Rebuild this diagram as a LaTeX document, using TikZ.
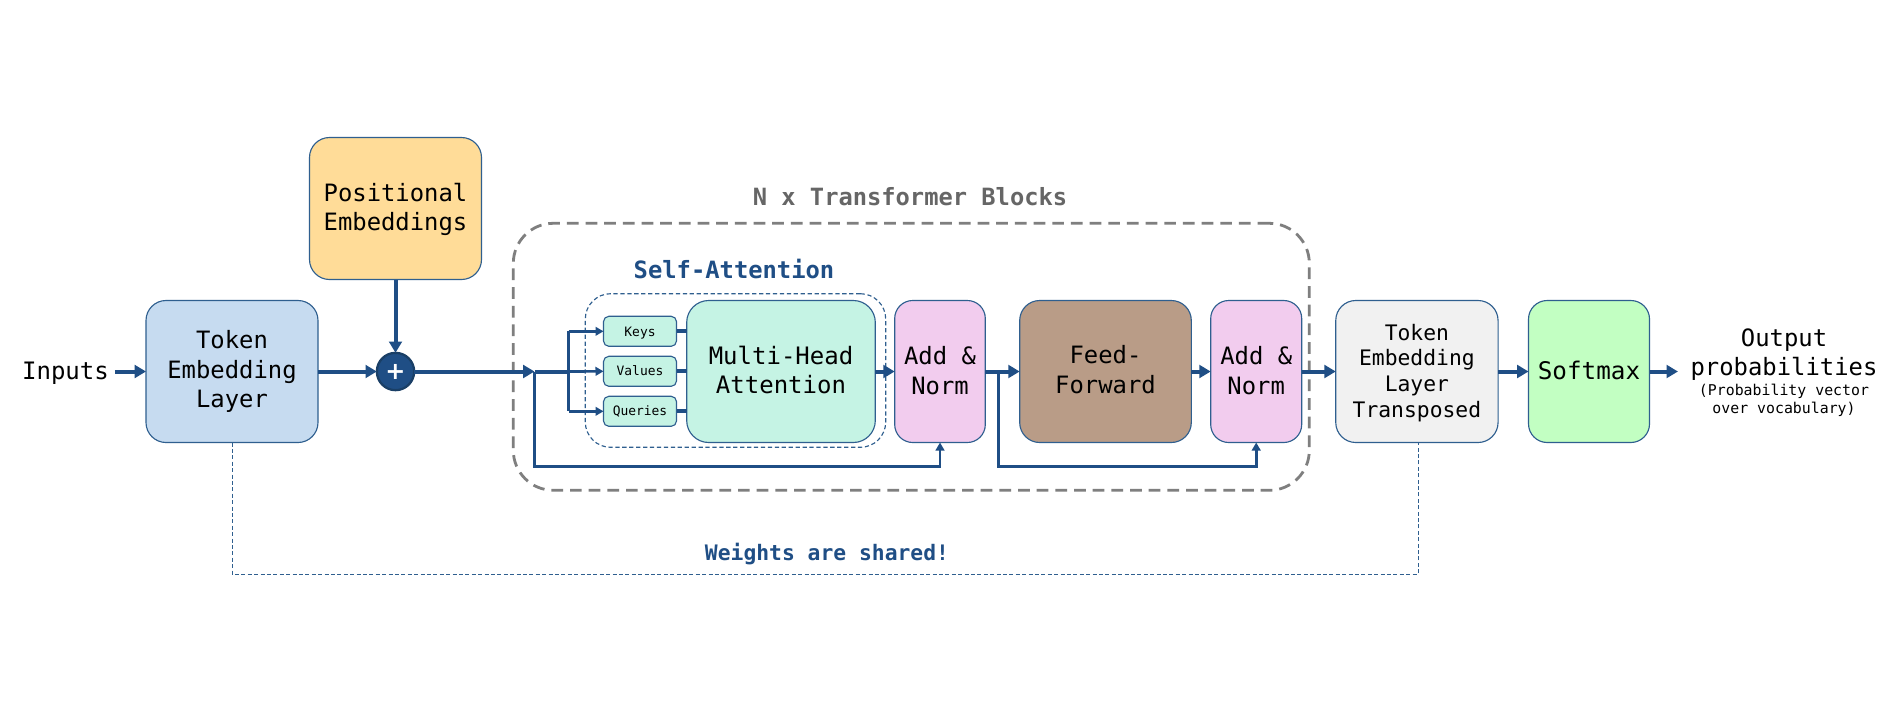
\documentclass[tikz,border=0pt]{standalone}
\usepackage{fontspec}
\setmainfont{DejaVu Sans Mono}
\newfontfamily\plusfont{DejaVu Sans Bold}
\usetikzlibrary{arrows.meta,calc}
\definecolor{lineblue}{HTML}{1F4E85}
\definecolor{edgeblue}{HTML}{2F5F8F}
\definecolor{circedge}{HTML}{1A3F66}
\definecolor{tokenfill}{HTML}{C6DBF0}
\definecolor{posfill}{HTML}{FFDC98}
\definecolor{mhfill}{HTML}{C5F3E4}
\definecolor{addfill}{HTML}{F2CCEE}
\definecolor{fffill}{HTML}{B99C87}
\definecolor{transfill}{HTML}{F1F1F1}
\definecolor{softfill}{HTML}{C2FFC2}
\definecolor{graylab}{HTML}{666666}
\definecolor{graydash}{HTML}{7F7F7F}
\newcommand{\dn}[1]{\rule[-#1pt]{0pt}{0pt}}
\newcommand{\up}[1]{\rule{0pt}{#1pt}}
\tikzset{
  sz/.style 2 args={minimum width=#1*0.75pt, minimum height=#2*0.75pt},
  block/.style={draw=edgeblue, line width=0.85pt, inner sep=0pt, outer sep=0pt, align=center, text=black,
    rounded corners=15pt, font=\fontsize{17.9}{22}\selectfont},
  small block/.style={block, rounded corners=4pt, font=\fontsize{9.7}{12}\selectfont},
  main/.style={draw=lineblue, line width=3pt, -{Triangle[length=8.5pt,width=9.5pt]}},
  plainline/.style={draw=lineblue, line width=3pt},
  thinarrow/.style={draw=lineblue, line width=2pt, -{Triangle[length=6pt,width=6.5pt]}},
  label/.style={inner sep=0pt, outer sep=0pt, align=center},
  shared/.style={draw=edgeblue, line width=0.75pt, dash pattern=on 3pt off 1.8pt}
}
\begin{document}
\begin{tikzpicture}[x=0.75pt,y=-0.75pt]
\path[use as bounding box,fill=white] (0,0) rectangle (1890,718);
% containers
\node[draw=graydash, line width=2.1pt, dash pattern=on 8.8pt off 5.2pt, rounded corners=30pt, sz={796}{267}, inner sep=0pt, outer sep=0pt] (blocks) at (911.3,356.8) {};
\node[draw=edgeblue, line width=0.85pt, dash pattern=on 3.2pt off 2pt, rounded corners=19pt, sz={300.4}{153.6}, inner sep=0pt, outer sep=0pt] (selfatt) at (735.5,370.5) {};
% boxes
\node[block, sz={172}{142}, fill=tokenfill] (token) at (232,371.5) {Token\\Embedding\\Layer};
\node[block, sz={172}{142}, fill=posfill] (pos) at (395.5,208.5) {\up{15}Positional\\Embeddings};
\node[draw=circedge, line width=1.7pt, fill=lineblue, circle, minimum size=28pt, inner sep=0pt, outer sep=0pt, text=white, font=\plusfont\fontsize{18}{18}\selectfont] (plus) at (395.5,371.5) {+};
\node[small block, sz={73}{30}, fill=mhfill] (keys) at (640,331.3) {\up{10}Keys};
\node[small block, sz={73}{30}, fill=mhfill] (values) at (640,371.3) {Values\dn{1.5}};
\node[small block, sz={73}{30}, fill=mhfill] (queries) at (640,411.3) {Queries};
\node[block, rounded corners=16.5pt, sz={188.6}{142}, fill=mhfill, font=\fontsize{18}{22}\selectfont] (mh) at (781,371.5) {Multi-Head\\Attention\dn{2.8}};
\node[block, rounded corners=13.5pt, sz={90.6}{142}, fill=addfill] (add1) at (940,371.5) {Add \&\\Norm\dn{1.5}};
\node[block, sz={171.6}{142}, fill=fffill] (ff) at (1105.5,371.5) {Feed-\\Forward\dn{3}};
\node[block, rounded corners=13.5pt, sz={91}{142}, fill=addfill] (add2) at (1256.2,371.5) {Add \&\\Norm\dn{1.5}};
\node[block, sz={162.3}{142}, fill=transfill, font=\fontsize{16}{19.3}\selectfont] (trans) at (1416.9,371.5) {\up{14}Token\\Embedding\\Layer\\Transposed};
\node[block, rounded corners=14pt, sz={121}{142}, fill=softfill, font=\fontsize{18.2}{22}\selectfont] (soft) at (1589,371.5) {Softmax\dn{1.5}};
% labels
\node[label, font=\fontsize{18}{22}\selectfont, inner xsep=4.5pt] (inputs) at (65.5,373.5) {Inputs};
\node[label, font=\fontsize{17.9}{22}\selectfont, inner xsep=9.5pt] (output) at (1784,354.7) {Output\\probabilities};
\node[label, font=\fontsize{11.15}{13.5}\selectfont] (outsub) at (1784,400.7) {(Probability vector\\over vocabulary)};
\node[label, text=graylab, font=\bfseries\fontsize{17.8}{22}\selectfont] (blockslab) at (910,197) {N x Transformer Blocks};
\node[label, text=lineblue, font=\bfseries\fontsize{17.85}{22}\selectfont] (salab) at (734,268.5) {Self-Attention};
\node[label, text=lineblue, font=\bfseries\fontsize{16}{20}\selectfont] (sharedlab) at (827,554) {Weights are shared!};
% free ends
\coordinate (j1) at (534.5,371.5);
\coordinate (j2) at (568.5,371.5);
\coordinate (j3) at (998.5,371.5);
\coordinate (by1) at (534.5,466.5);
\coordinate (by2) at (998.5,466.5);
\coordinate (sh) at (827,574);
% connectors
\draw[main] (inputs.east |- token.west) -- (token.west);
\draw[main] (token.east) -- (plus.west);
\draw[main] (pos.south) -- (plus.north);
\draw[main] (plus.east) -- (j1);
\draw[plainline] (j1) -- (j2);
\draw[plainline,line width=2pt] (j2 |- keys) -- (j2 |- queries);
\draw[thinarrow] (j2 |- keys) -- (keys.west);
\draw[thinarrow] (j2) -- (values.west);
\draw[thinarrow] (j2 |- queries) -- (queries.west);
\draw[plainline] (keys.east) -- (keys.east -| mh.west);
\draw[plainline] (values.east) -- (values.east -| mh.west);
\draw[plainline] (queries.east) -- (queries.east -| mh.west);
\draw[main] (mh.east) -- (add1.west);
\draw[main] (add1.east) -- (ff.west);
\draw[main] (ff.east) -- (add2.west);
\draw[main] (add2.east) -- (trans.west);
\draw[main] (trans.east) -- (soft.west);
\draw[main] (soft.east) -- (output.west |- soft.east);
\draw[thinarrow] (j1) -- (by1) -| (add1.south);
\draw[thinarrow] (j3) -- (by2) -| (add2.south);
\draw[shared] (token.south) |- (sh) -| ([xshift=0.9pt]trans.south);
\end{tikzpicture}
\end{document}
